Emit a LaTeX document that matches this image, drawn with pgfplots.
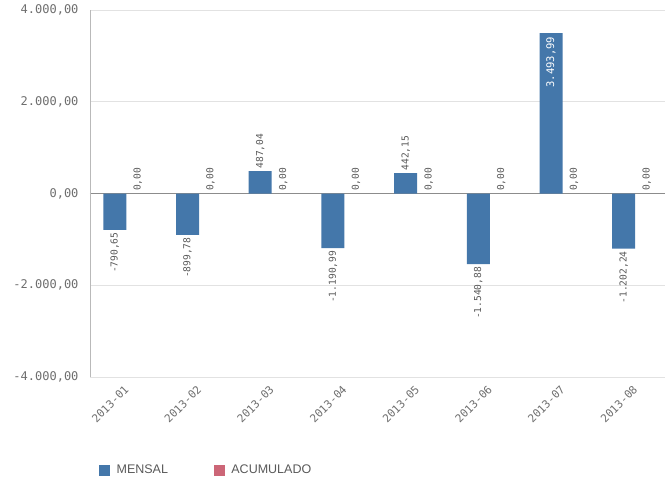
\documentclass[border=0pt]{standalone}
\usepackage{pgfplots}
\pgfplotsset{compat=1.18}
\usepackage{fontspec}
\setmainfont{Liberation Sans}
\newfontfamily\monof{DejaVu Sans Mono}
\definecolor{cMensal}{HTML}{4477AA}
\definecolor{cAcum}{HTML}{CC6677}
\definecolor{tickgray}{HTML}{6E6E6E}
\definecolor{legtext}{HTML}{595959}
\definecolor{gridc}{HTML}{E2E2E2}
\definecolor{zeroc}{HTML}{8C8C8C}
\begin{document}
\begin{tikzpicture}
\useasboundingbox (-90pt,-110pt) rectangle (575pt,377pt);
\begin{axis}[
  at={(0,0)}, anchor=south west,
  scale only axis, width=575pt, height=367pt,
  xmin=-0.5, xmax=7.41, ymin=-4000, ymax=4000,
  axis line style={draw=none},
  major tick length=0pt,
  xtick={0,...,7},
  xticklabels={2013-01,2013-02,2013-03,2013-04,2013-05,2013-06,2013-07,2013-08},
  x tick label style={rotate=45, anchor=north east, font=\monof\fontsize{11}{13}\selectfont, text=tickgray, xshift=-4pt, yshift=0pt},
  ytick={-4000,-2000,0,2000,4000},
  scaled y ticks=false,
  y tick label style={font=\monof\fontsize{12}{14}\selectfont, text=tickgray, xshift=-8pt},
  /pgf/number format/.cd, fixed, fixed zerofill, precision=2, use comma, 1000 sep={.}, assume math mode=true,
  /pgfplots/.cd,
  ymajorgrids, grid style={gridc, line width=0.8pt},
  extra y ticks={0}, extra y tick labels={},
  extra y tick style={grid style={zeroc, line width=0.8pt}},
  legend columns=2,
  legend style={at={(0,0)}, anchor=west, xshift=6pt, yshift=-93pt, draw=none, fill=none,
    font=\fontsize{12.5}{14}\selectfont, text=legtext,
    /tikz/every odd column/.append style={column sep=5pt},
    /tikz/every even column/.append style={column sep=44pt}},
  legend cell align=left,
]
\draw[gray!55, line width=0.8pt] (rel axis cs:0,0) -- (rel axis cs:0,1);
\addlegendimage{legend image code/.code={\fill[cMensal] (0pt,-5pt) rectangle (10pt,5pt);}}
\addlegendentry{MENSAL}
\addlegendimage{legend image code/.code={\fill[cAcum] (0pt,-5pt) rectangle (10pt,5pt);}}
\addlegendentry{ACUMULADO}
% MENSAL bars
\addplot[forget plot, ybar, bar width=23pt, bar shift=-11.5pt, fill=cMensal, draw=none]
coordinates {
(0,-790.65) (1,-899.78) (2,487.04) (3,-1190.99)
(4,442.15) (5,-1540.88) (6,3493.99) (7,-1202.24)
};
% labels: positive, above bar
\addplot[forget plot, ybar, bar width=23pt, bar shift=-11.5pt, fill=none, draw=none,
  point meta=explicit symbolic,
  nodes near coords={\rotatebox{90}{\pgfplotspointmeta}},
  every node near coord/.append style={xshift=-11.5pt, anchor=south, font=\monof\fontsize{9.6}{11}\selectfont, text=legtext, inner sep=2.5pt}]
coordinates {
(2,487.04) [487,04]
(4,442.15) [442,15]
};
% labels: negative, below bar
\addplot[forget plot, ybar, bar width=23pt, bar shift=-11.5pt, fill=none, draw=none,
  point meta=explicit symbolic,
  nodes near coords={\rotatebox{90}{\pgfplotspointmeta}},
  every node near coord/.append style={xshift=-11.5pt, anchor=north, font=\monof\fontsize{9.6}{11}\selectfont, text=legtext, inner sep=2.5pt}]
coordinates {
(0,-790.65) [-790,65]
(1,-899.78) [-899,78]
(3,-1190.99) [-1.190,99]
(5,-1540.88) [-1.540,88]
(7,-1202.24) [-1.202,24]
};
% label inside tall bar
\addplot[forget plot, ybar, bar width=23pt, bar shift=-11.5pt, fill=none, draw=none,
  point meta=explicit symbolic,
  nodes near coords={\rotatebox{90}{\pgfplotspointmeta}},
  every node near coord/.append style={xshift=-11.5pt, anchor=north, font=\monof\fontsize{10.5}{12}\selectfont, text=white, inner sep=3.5pt}]
coordinates {
(6,3493.99) [3.493,99]
};
% ACUMULADO bars (all zero)
\addplot[forget plot, ybar, bar width=23pt, bar shift=11.5pt, fill=none, draw=none,
  point meta=explicit symbolic,
  nodes near coords={\rotatebox{90}{\pgfplotspointmeta}},
  every node near coord/.append style={xshift=11.5pt, anchor=south, font=\monof\fontsize{9.6}{11}\selectfont, text=legtext, inner sep=2.5pt}]
coordinates {
(0,0) [0,00] (1,0) [0,00] (2,0) [0,00] (3,0) [0,00]
(4,0) [0,00] (5,0) [0,00] (6,0) [0,00] (7,0) [0,00]
};
\end{axis}
\end{tikzpicture}
\end{document}
